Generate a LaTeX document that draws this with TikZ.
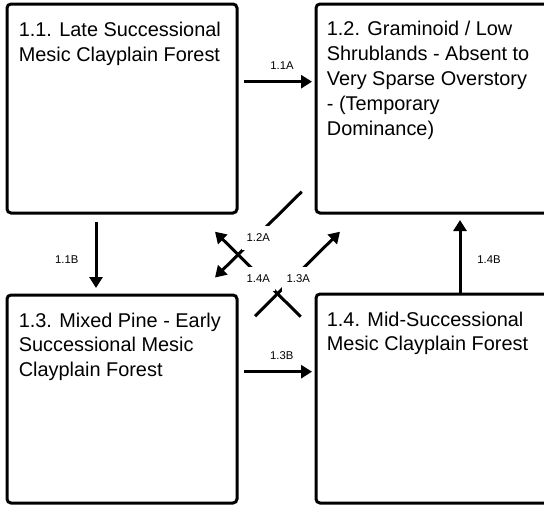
\documentclass[tikz,border=0pt]{standalone}
\usepackage{fontspec}
\setmainfont{Liberation Sans}
\usetikzlibrary{arrows.meta}
\begin{document}
\begin{tikzpicture}[x=1pt,y=-1pt,
  statebox/.style={draw=black, line width=3pt, rounded corners=4pt, rectangle, outer sep=0pt, anchor=north west, inner sep=0pt},
  boxtext/.style={anchor=north west, inner sep=0pt, align=left, font=\fontsize{19.9}{24.8}\selectfont},
  arr/.style={line width=3pt, -{Triangle[length=11pt,width=13pt]}},
  lab/.style={font=\fontsize{11.3}{13}\selectfont, inner sep=1pt},
  xlab/.style={font=\fontsize{11.3}{13}\selectfont, fill=white, inner xsep=5pt, minimum height=24pt},
]
\useasboundingbox (0,0) rectangle (544,506);
\clip (0,0) rectangle (544,506);
\fill[white] (0,0) rectangle (544,506);

% state boxes
\node[statebox, minimum width=230pt, minimum height=209pt] (b11) at (7,4) {};
\node[statebox, minimum width=236pt, minimum height=209pt] (b12) at (316,4) {};
\node[statebox, minimum width=230pt, minimum height=208pt] (b13) at (7,295) {};
\node[statebox, minimum width=236pt, minimum height=209pt] (b14) at (316,294) {};

% box texts
\node[boxtext] (t11) at (18.6,22.3) {1.1. Late Successional\\Mesic Clayplain Forest};
\node[boxtext] (t12) at (326.7,21.3) {1.2. Graminoid / Low\\Shrublands - Absent to\\Very Sparse Overstory\\- (Temporary\\Dominance)};
\node[boxtext] (t13) at (18.6,312.5) {1.3. Mixed Pine - Early\\Successional Mesic\\Clayplain Forest};
\node[boxtext] (t14) at (326.7,311.5) {1.4. Mid-Successional\\Mesic Clayplain Forest};

% connector end points
\coordinate (p11As) at (244,81.7);
\coordinate (p11Ae) at (312,81.7);
\coordinate (p11Bs) at (96,222);
\coordinate (p11Be) at (96,288);
\coordinate (p13Bs) at (244,371.7);
\coordinate (p13Be) at (312,371.7);
\coordinate (p14Bs) at (460,293);
\coordinate (p14Be) at (460,220);
\coordinate (p12As) at (301.7,191.7);
\coordinate (p12Ae) at (215,277.5);
\coordinate (p14As) at (300.7,316.7);
\coordinate (p14Ae) at (215,231.7);
\coordinate (p13As) at (255,316.2);
\coordinate (p13Ae) at (340,231.7);

% connectors
\draw[arr] (p11As) -- (p11Ae);
\draw[arr] (p11Bs) -- (p11Be);
\draw[arr] (p13Bs) -- (p13Be);
\draw[arr] (p14Bs) -- (p14Be);
\draw[arr] (p12As) -- (p12Ae);
\draw[arr] (p14As) -- (p14Ae);
\draw[arr] (p13As) -- (p13Ae);

% labels
\node[lab] (l11A) at (282,65.5) {1.1A};
\node[lab] (l13B) at (281.8,355.5) {1.3B};
\node[lab] (l11B) at (66.7,260) {1.1B};
\node[lab] (l14B) at (489,260) {1.4B};
\node[xlab] (l12A) at (258.3,237.5) {1.2A};
\node[xlab] (l14A) at (258.3,278.5) {1.4A};
\node[xlab] (l13A) at (298.3,278.5) {1.3A};
\end{tikzpicture}
\end{document}
